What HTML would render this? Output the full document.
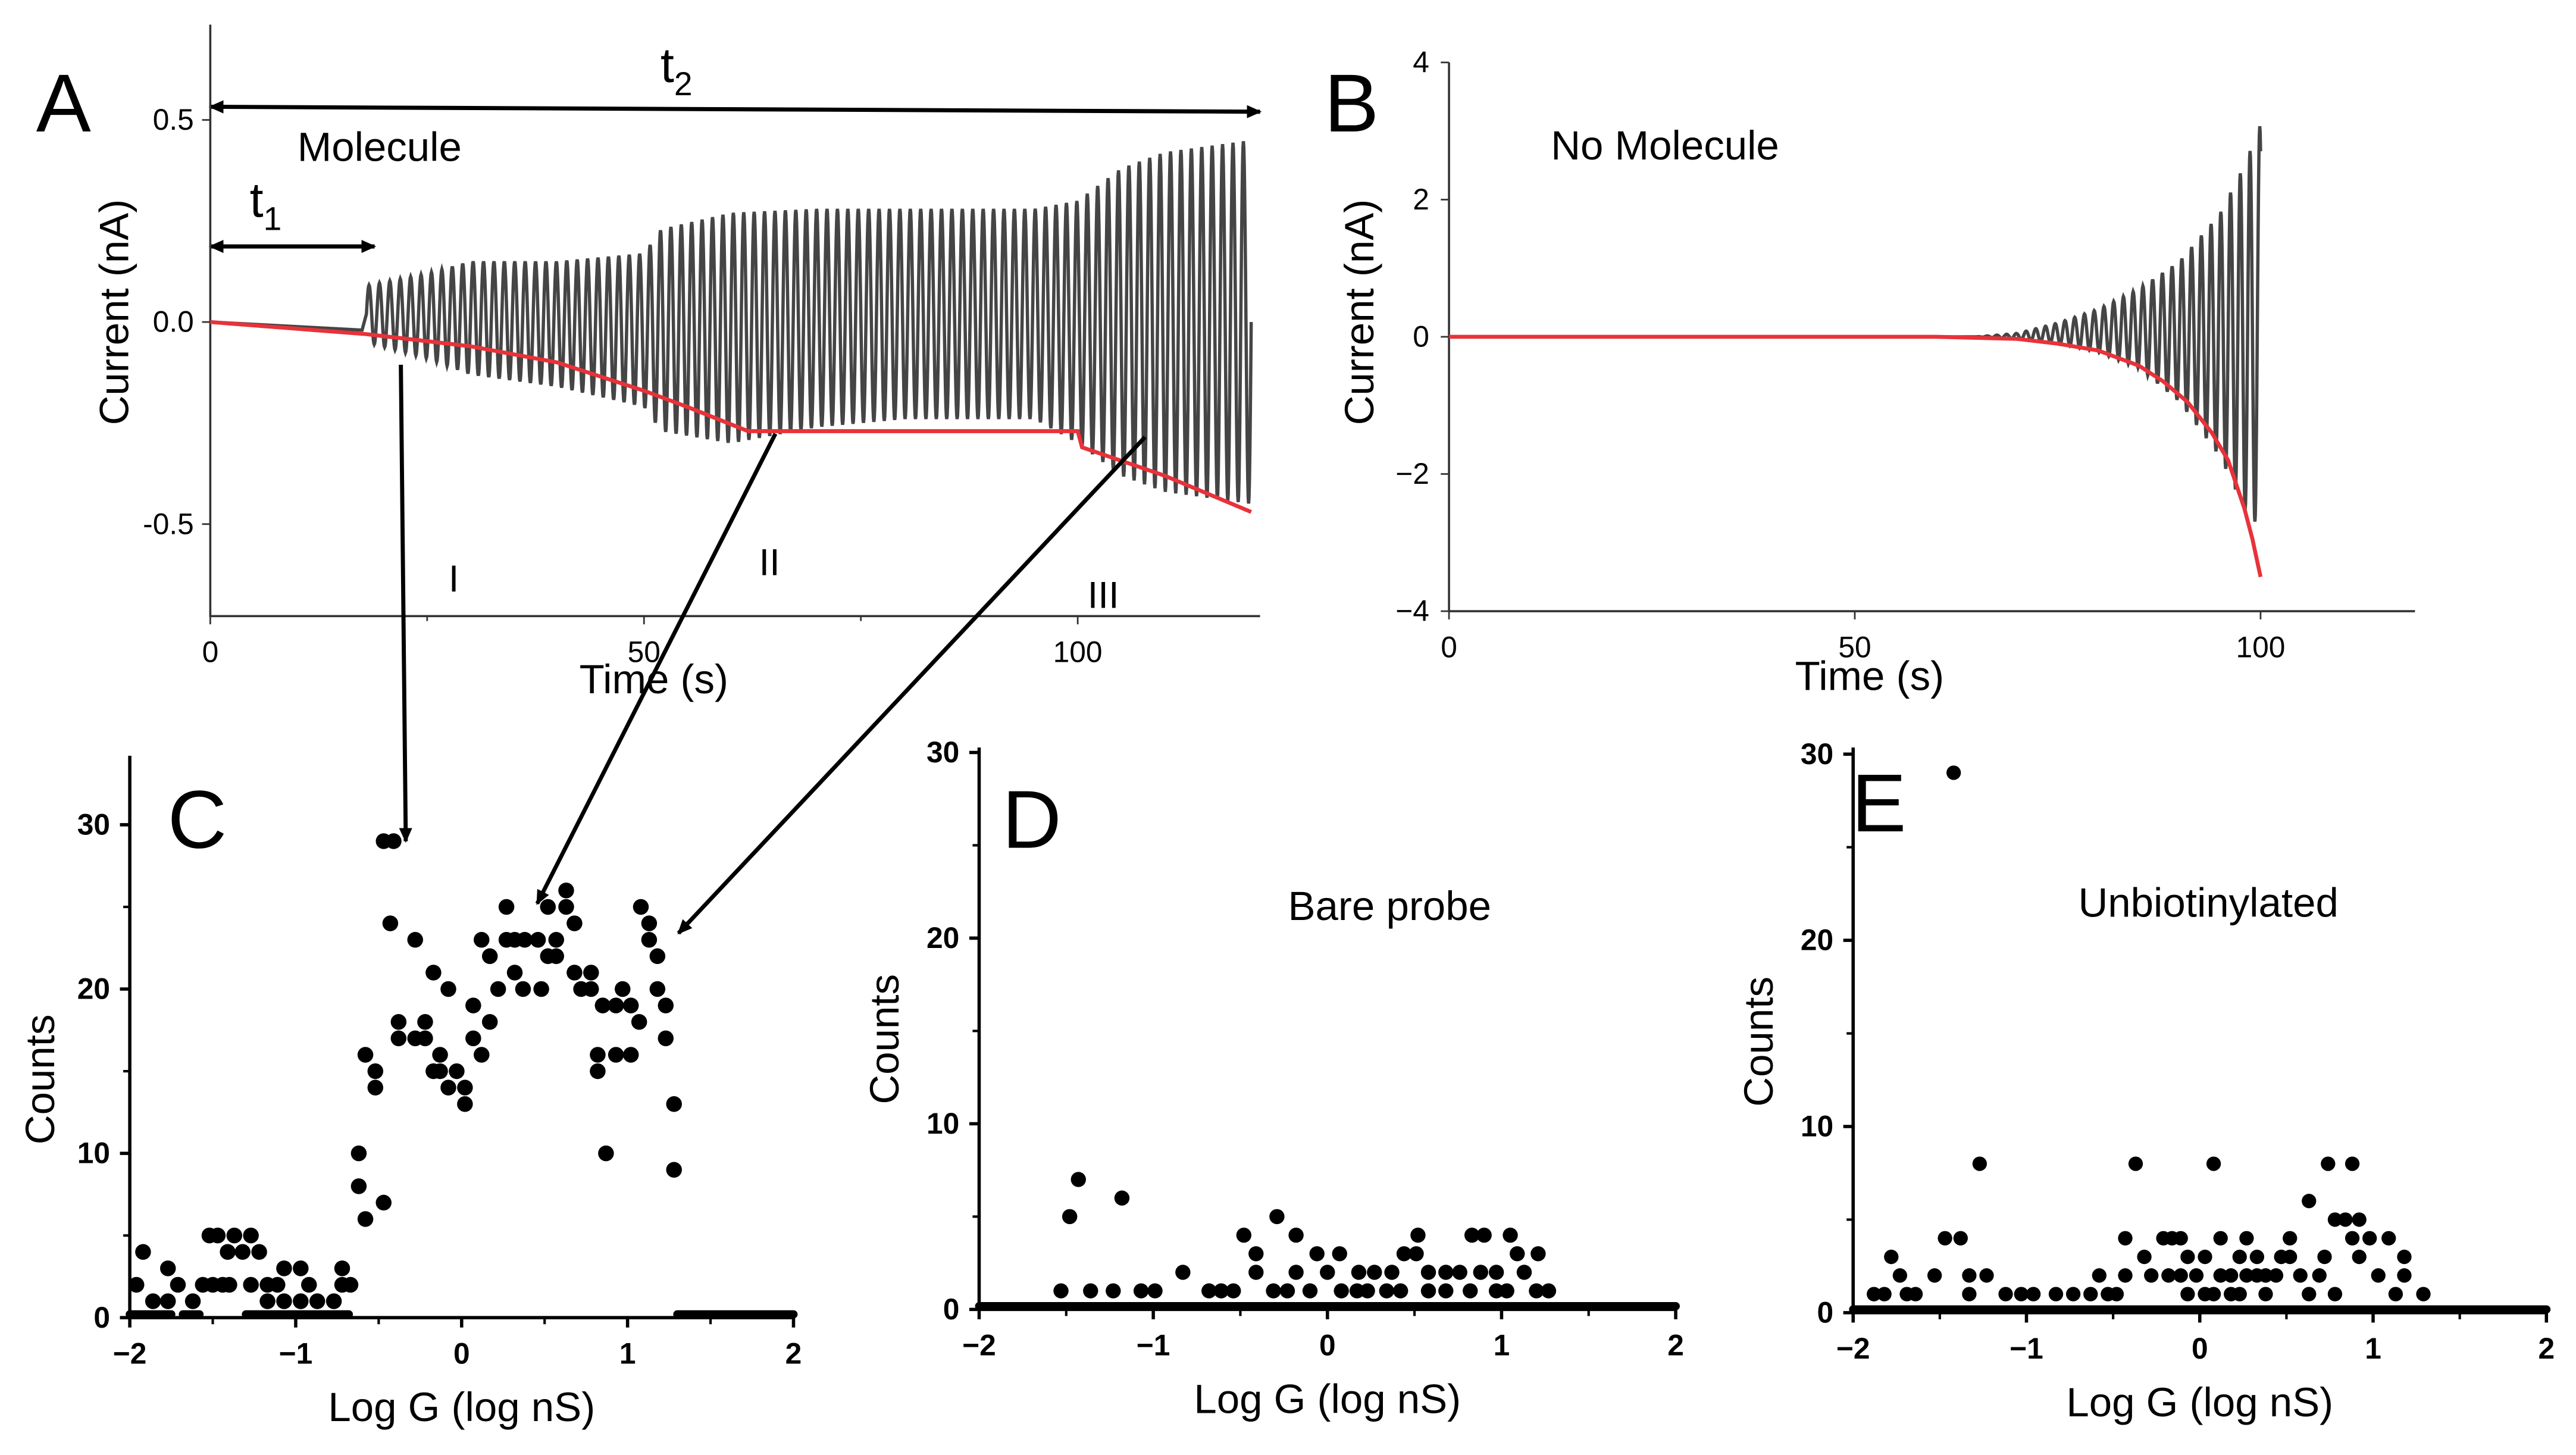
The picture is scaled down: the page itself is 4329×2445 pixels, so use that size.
<!DOCTYPE html>
<html><head><meta charset="utf-8"><style>
html,body{margin:0;padding:0;background:#fff;}
svg{display:block;font-family:"Liberation Sans",sans-serif;}
</style></head><body>
<svg id="fig" width="4329" height="2445" viewBox="0 0 1568 885.6" xmlns="http://www.w3.org/2000/svg">
<defs>
<marker id="ah" markerWidth="10" markerHeight="10" refX="8" refY="5" orient="auto" markerUnits="userSpaceOnUse"><path d="M0,1 L9,5 L0,9 z" fill="#000"/></marker>
<marker id="ahs" markerWidth="10" markerHeight="10" refX="1" refY="5" orient="auto" markerUnits="userSpaceOnUse"><path d="M9,1 L0,5 L9,9 z" fill="#000"/></marker>
</defs>
<g id="static" fill="#000">
<text x="22" y="80" font-size="50">A</text>
<text x="806" y="80" font-size="50">B</text>
<text x="102" y="516" font-size="50">C</text>
<text x="610" y="516" font-size="50">D</text>
<text x="1127" y="506" font-size="50">E</text>
<text x="181" y="98" font-size="25">Molecule</text>
<text x="944" y="97" font-size="25">No Molecule</text>
<text x="784" y="560" font-size="25">Bare probe</text>
<text x="1265" y="558" font-size="25">Unbiotinylated</text>
<text x="273" y="360" font-size="23">I</text>
<text x="462" y="350" font-size="23">II</text>
<text x="662" y="370" font-size="23">III</text>
<text x="402" y="50" font-size="30">t<tspan font-size="20" dy="8">2</tspan></text>
<text x="152" y="132" font-size="30">t<tspan font-size="20" dy="8">1</tspan></text>
<line x1="128" y1="65" x2="767" y2="68" stroke="#000" stroke-width="2.5" marker-start="url(#ahs)" marker-end="url(#ah)"/>
<line x1="128" y1="150" x2="228" y2="150" stroke="#000" stroke-width="2.5" marker-start="url(#ahs)" marker-end="url(#ah)"/>
</g>
<g id="plots"></g>
<g id="pointers">
<line x1="244" y1="222" x2="247" y2="512" stroke="#000" stroke-width="2.5" marker-end="url(#ah)"/>
<line x1="472" y1="264" x2="327" y2="550" stroke="#000" stroke-width="2.5" marker-end="url(#ah)"/>
<line x1="697" y1="266" x2="413" y2="568" stroke="#000" stroke-width="2.5" marker-end="url(#ah)"/>
</g>
</svg>
<script>
// ---------- Panel A data ----------
const aEnvTime = [0, 17.5, 18, 25, 30, 40, 50, 52, 60, 70, 80, 95, 100, 105, 110, 120];
const aEnvUpper = [0.0, -0.01, 0.09, 0.12, 0.15, 0.15, 0.17, 0.23, 0.27, 0.28, 0.28, 0.28, 0.30, 0.38, 0.42, 0.45];
const aEnvLower = [0.0, -0.03, -0.05, -0.09, -0.13, -0.16, -0.21, -0.27, -0.3, -0.26, -0.24, -0.24, -0.3, -0.38, -0.42, -0.45];
const aRedTime = [0, 18, 30, 40, 50, 55, 62, 100, 100.5, 110, 120];
const aRedCurrent = [0, -0.03, -0.06, -0.1, -0.17, -0.21, -0.27, -0.27, -0.31, -0.38, -0.47];
const aXTicks = [0, 50, 100];
const aYTicks = [-0.5, 0.0, 0.5];
const aYTickLabels = ["-0.5", "0.0", "0.5"];
// ---------- Panel B data ----------
const bEnvTime = [0, 65, 70, 75, 80, 85, 90, 95, 98, 100];
const bEnvUpper = [0, 0, 0.05, 0.2, 0.4, 0.7, 1.1, 1.8, 2.5, 3.1];
const bEnvLower = [0, 0, -0.03, -0.1, -0.22, -0.45, -0.95, -1.75, -2.5, -2.8];
const bRedTime = [0, 60, 70, 75, 80, 85, 88, 91, 94, 96, 98, 99, 100];
const bRedCurrent = [0, 0, -0.03, -0.1, -0.2, -0.42, -0.65, -0.95, -1.4, -1.8, -2.5, -2.95, -3.5];
const bXTicks = [0, 50, 100];
const bYTicks = [-4, -2, 0, 2, 4];
// ---------- Histogram data ----------
const cLogG = [-1.96,-1.92,-1.86,-1.77,-1.77,-1.71,-1.62,-1.56,-1.5,-1.44,-1.4,-1.52,-1.47,-1.37,-1.27,-1.41,-1.32,-1.22,-1.27,-1.17,-1.11,-1.17,-1.07,-1.07,-0.97,-0.92,-0.97,-0.87,-0.77,-0.72,-0.72,-0.67,-0.62,-0.62,-0.58,-0.47,-0.58,-0.52,-0.52,-0.47,-0.41,-0.43,-0.38,-0.22,-0.38,-0.28,-0.22,-0.28,-0.17,-0.13,-0.17,-0.13,-0.03,-0.08,-0.08,0.02,0.02,0.07,0.07,0.12,0.17,0.12,0.17,0.22,0.27,0.27,0.32,0.38,0.46,0.57,0.32,0.37,0.48,0.52,0.63,0.63,0.52,0.57,0.68,0.68,0.78,0.72,0.78,0.97,0.85,0.93,1.02,0.82,0.93,1.02,0.82,0.87,1.07,1.08,1.13,1.13,1.18,1.18,1.23,1.23,1.28,1.28];
const cCounts = [2,4,1,1,3,2,1,2,2,2,2,5,5,5,5,4,4,4,2,2,2,1,1,3,3,2,1,1,1,3,2,2,10,8,6,7,16,15,14,29,29,24,18,18,17,17,17,23,21,16,15,15,15,20,14,14,13,19,17,16,18,23,22,20,25,23,23,23,23,23,21,20,20,25,25,26,22,22,24,21,21,20,20,20,19,19,19,16,16,16,15,10,18,25,24,23,22,20,19,17,13,9];
const cZeroRuns = [[-2,-1.75],[-1.68,-1.58],[-1.3,-0.68],[1.3,2]];
const dLogG = [-1.53,-1.43,-1.48,-1.18,-1.36,-1.23,-1.07,-0.99,-0.83,-0.68,-0.61,-0.54,-0.48,-0.41,-0.41,-0.29,-0.18,-0.31,-0.23,-0.18,-0.1,-0.06,0.07,0,0.08,0.17,0.23,0.18,0.27,0.37,0.34,0.42,0.44,0.51,0.52,0.58,0.58,0.68,0.68,0.76,0.82,0.83,0.9,1.05,0.88,0.97,0.97,1.03,1.09,1.21,1.13,1.2,1.27];
const dCounts = [1,7,5,6,1,1,1,1,2,1,1,1,4,3,2,5,4,1,1,2,1,3,3,2,1,1,1,2,2,2,1,1,3,3,4,2,1,1,2,2,1,4,4,4,2,2,1,1,3,3,2,1,1];
const dZeroRuns = [[-2,2]];
const eLogG = [-1.42,-1.27,-0.37,0.08,0.74,0.88,0.63,0.78,0.84,0.92,
 -1.47,-1.38,-0.43,-0.21,-0.16,-0.11,0.12,0.27,0.52,0.88,0.98,1.09,
 -1.78,-0.32,-0.07,0.03,0.23,0.33,0.47,0.52,0.72,0.92,1.18,
 -1.73,-1.53,-1.33,-1.23,-0.58,-0.43,-0.28,-0.18,-0.11,-0.02,0.12,0.18,0.27,0.33,0.38,0.44,0.58,0.69,1.03,1.18,
 -1.88,-1.82,-1.69,-1.64,-1.33,-1.12,-1.03,-0.96,-0.83,-0.73,-0.63,-0.53,-0.48,-0.07,0.03,0.08,0.18,0.23,0.38,0.63,0.78,1.13,1.29];
const eCounts = [29,8,8,8,8,8,6,5,5,5,
 4,4,4,4,4,4,4,4,4,4,4,4,
 3,3,3,3,3,3,3,3,3,3,3,
 2,2,2,2,2,2,2,2,2,2,2,2,2,2,2,2,2,2,2,2,
 1,1,1,1,1,1,1,1,1,1,1,1,1,1,1,1,1,1,1,1,1,1,1];
const eZeroRuns = [[-2,2]];
const histXTicks = [-2, -1, 0, 1, 2];
const histXTickLabels = ["\u22122", "\u22121", "0", "1", "2"];
const histYTicks = [0, 10, 20, 30];
const oscPeriod = 1.2;

const NS = "http://www.w3.org/2000/svg";
const root = document.getElementById("plots");
function mk(tag, attrs, parent) {
  const e = document.createElementNS(NS, tag);
  for (const k in attrs) e.setAttribute(k, attrs[k]);
  (parent || root).appendChild(e);
  return e;
}
function lin(d0, d1, p0, p1) { return v => p0 + (v - d0) * (p1 - p0) / (d1 - d0); }
function interp(xs, ys, x) {
  if (x <= xs[0]) return ys[0];
  for (let i = 1; i < xs.length; i++) if (x <= xs[i]) {
    const t = (x - xs[i-1]) / (xs[i] - xs[i-1]); return ys[i-1] + t * (ys[i] - ys[i-1]);
  }
  return ys[ys.length - 1];
}
function text(str, x, y, size, anchor, parent, name, rot, bold) {
  const t = mk("text", {x: x, y: y, "font-size": size, "text-anchor": anchor || "middle", fill: "#000"}, parent);
  if (rot) t.setAttribute("transform", "rotate(-90 " + x + " " + y + ")");
  if (bold) t.setAttribute("font-weight", "bold");
  t.textContent = str;
  
  
  return t;
}

// ---------- Panel A ----------
(function(){
  const g = mk("g", {});
  
  
  const X = lin(0, 100, 128, 656), Y = lin(0, 0.5, 196, 73);
  const ax = mk("path", {d: "M128,15 L128,375 L767,375", fill: "none", stroke: "#333", "stroke-width": 1.3}, g);
  
  
  aXTicks.forEach(v => {
    mk("line", {x1: X(v), y1: 375, x2: X(v), y2: 380, stroke: "#333"}, g);
    text(String(v), X(v), 403, 18, "middle", g, "a-x-tick-label");
  });
  [25, 75].forEach(v => mk("line", {x1: X(v), y1: 375, x2: X(v), y2: 378, stroke: "#333"}, g));
  aYTicks.forEach((v, i) => {
    mk("line", {x1: 123, y1: Y(v), x2: 128, y2: Y(v), stroke: "#333"}, g);
    text(aYTickLabels[i], 118, Y(v) + 6, 18, "end", g, "a-y-tick-label");
  });
  text("Time (s)", 398, 422, 25, "middle", g, "a-x-axis-title");
  text("Current (nA)", 78, 190, 25, "middle", g, "a-y-axis-title", true);
  let d = "";
  const tEnd = aEnvTime[aEnvTime.length - 1];
  for (let t = 0; t <= tEnd; t += 0.05) {
    const up = interp(aEnvTime, aEnvUpper, t), lo = interp(aEnvTime, aEnvLower, t);
    const s = t < 18 ? 0 : Math.sin(2 * Math.PI * (t - 18) / oscPeriod);
    const v = (up + lo) / 2 + s * (up - lo) / 2;
    d += (d ? "L" : "M") + X(t).toFixed(2) + "," + Y(v).toFixed(2);
  }
  const tr = mk("path", {d: d, fill: "none", stroke: "#454545", "stroke-width": 2}, g);
  
  
  const red = mk("path", {d: aRedTime.map((t, i) => (i ? "L" : "M") + X(t) + "," + Y(aRedCurrent[i])).join(""), fill: "none", stroke: "#e8323a", "stroke-width": 2.4}, g);
  
  
})();

// ---------- Panel B ----------
(function(){
  const g = mk("g", {});
  
  
  const X = lin(0, 100, 882, 1376), Y = lin(0, 2, 205, 121.5);
  const ax = mk("path", {d: "M882,38 L882,372 L1470,372", fill: "none", stroke: "#333", "stroke-width": 1.3}, g);
  
  
  bXTicks.forEach(v => {
    mk("line", {x1: X(v), y1: 372, x2: X(v), y2: 377, stroke: "#333"}, g);
    text(String(v), X(v), 400, 18, "middle", g, "b-x-tick-label");
  });
  bYTicks.forEach(v => {
    mk("line", {x1: 877, y1: Y(v), x2: 882, y2: Y(v), stroke: "#333"}, g);
    text(v < 0 ? "\u2212" + (-v) : String(v), 870, Y(v) + 6, 18, "end", g, "b-y-tick-label");
  });
  text("Time (s)", 1138, 420, 25, "middle", g, "b-x-axis-title");
  text("Current (nA)", 836, 190, 25, "middle", g, "b-y-axis-title", true);
  let d = "";
  const tEnd = bEnvTime[bEnvTime.length - 1];
  for (let t = 0; t <= tEnd; t += 0.05) {
    const up = interp(bEnvTime, bEnvUpper, t), lo = interp(bEnvTime, bEnvLower, t);
    const s = Math.sin(2 * Math.PI * t / oscPeriod);
    const v = (up + lo) / 2 + s * (up - lo) / 2;
    d += (d ? "L" : "M") + X(t).toFixed(2) + "," + Y(v).toFixed(2);
  }
  const tr = mk("path", {d: d, fill: "none", stroke: "#454545", "stroke-width": 2}, g);
  
  
  const red = mk("path", {d: bRedTime.map((t, i) => (i ? "L" : "M") + X(t) + "," + Y(bRedCurrent[i])).join(""), fill: "none", stroke: "#e8323a", "stroke-width": 2.4}, g);
  
  
})();

// ---------- Histograms ----------
function hist(p, xs, ys, runs, name) {
  const g = mk("g", {});
  
  
  const X = lin(-2, 2, p.x0, p.x1), Y = lin(0, 30, p.y0, p.y30);
  const ax = mk("path", {d: "M" + p.x0 + "," + p.top + " L" + p.x0 + "," + p.y0 + " L" + p.x1 + "," + p.y0, fill: "none", stroke: "#000", "stroke-width": 2}, g);
  
  
  histXTicks.forEach((v, i) => {
    mk("line", {x1: X(v), y1: p.y0, x2: X(v), y2: p.y0 + 6, stroke: "#000", "stroke-width": 2}, g);
    text(histXTickLabels[i], X(v), p.y0 + 28, 18, "middle", g, "x-tick-label", false, true);
  });
  [-1.5, -0.5, 0.5, 1.5].forEach(v => mk("line", {x1: X(v), y1: p.y0, x2: X(v), y2: p.y0 + 4, stroke: "#000", "stroke-width": 1.5}, g));
  histYTicks.forEach(v => {
    mk("line", {x1: p.x0 - 6, y1: Y(v), x2: p.x0, y2: Y(v), stroke: "#000", "stroke-width": 2}, g);
    text(String(v), p.x0 - 12, Y(v) + 6, 18, "end", g, "y-tick-label", false, true);
  });
  [5, 15, 25].forEach(v => mk("line", {x1: p.x0 - 4, y1: Y(v), x2: p.x0, y2: Y(v), stroke: "#000", "stroke-width": 1.5}, g));
  text("Log G (log nS)", (p.x0 + p.x1) / 2, p.y0 + 63, 25, "middle", g, "x-axis-title");
  text("Counts", p.ytx, (p.y0 + p.y30) / 2 + 5, 25, "middle", g, "y-axis-title", true);
  runs.forEach(r => {
    const z = mk("line", {x1: X(r[0]), y1: Y(0) - 2, x2: X(r[1]), y2: Y(0) - 2, stroke: "#000", "stroke-width": 5, "stroke-linecap": "round"}, g);
    
    
  });
  xs.forEach((x, i) => {
    const c = mk("circle", {cx: X(x), cy: Y(ys[i]), r: p.r, fill: "#000"}, g);
    
    
  });
}
hist({x0: 79, x1: 483, y0: 802, y30: 502, top: 460, r: 4.8, ytx: 33}, cLogG, cCounts, cZeroRuns, "panel-c-histogram");
hist({x0: 596, x1: 1020, y0: 797, y30: 458, top: 455, r: 4.6, ytx: 547}, dLogG, dCounts, dZeroRuns, "panel-d-histogram");
hist({x0: 1128, x1: 1550, y0: 799, y30: 459, top: 455, r: 4.4, ytx: 1079}, eLogG, eCounts, eZeroRuns, "panel-e-histogram");
</script>
</body></html>
